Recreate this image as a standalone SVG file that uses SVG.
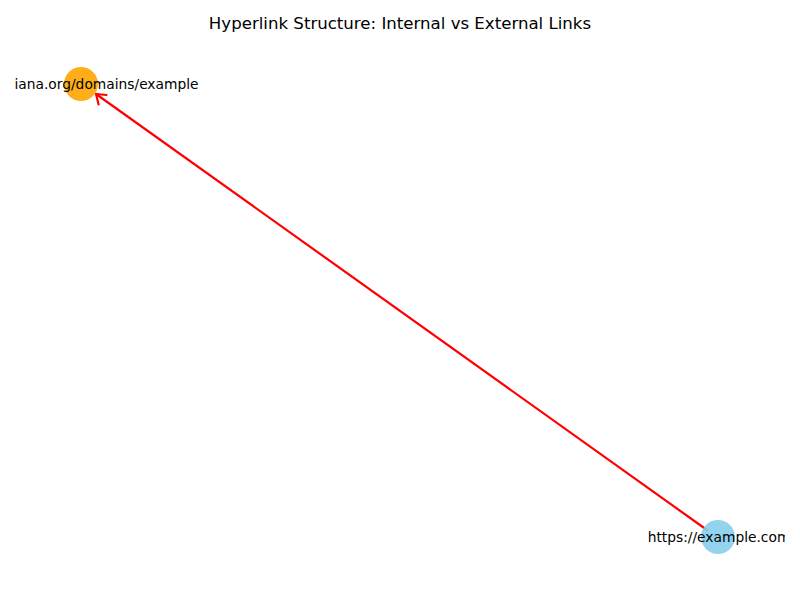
<svg xmlns="http://www.w3.org/2000/svg" width="800" height="600" viewBox="0 0 800 600">
<style>
.lbl{font-family:"DejaVu Sans",sans-serif;font-size:13.8px;fill:#000;text-anchor:middle;dominant-baseline:central}
.title{font-family:"DejaVu Sans",sans-serif;font-size:16.6px;fill:#000;text-anchor:middle}
.edge{stroke:#ff0000;stroke-width:2.2;fill:none;stroke-linecap:round;stroke-linejoin:round}
</style>
<defs><clipPath id="c"><rect x="0" y="0" width="785" height="600"/></clipPath></defs>
<rect width="800" height="600" fill="#fff"/>
<text class="title" x="400" y="29">Hyperlink Structure: Internal vs External Links</text>
<g id="connectors">
<path class="edge" d="M707,530 L96,94"/>
<path class="edge" d="M98.6,104.5 L96,94 L106.5,95"/>
</g>
<g id="node-iana">
<circle cx="81" cy="84" r="17" fill="#ffa500" fill-opacity="0.9"/>
<text class="lbl" x="106.5" y="84">iana.org/domains/example</text>
</g>
<g id="node-example" clip-path="url(#c)">
<circle cx="718" cy="537" r="17" fill="#87ceeb" fill-opacity="0.9"/>
<text class="lbl" x="719" y="537">https://example.com</text>
</g>
</svg>
